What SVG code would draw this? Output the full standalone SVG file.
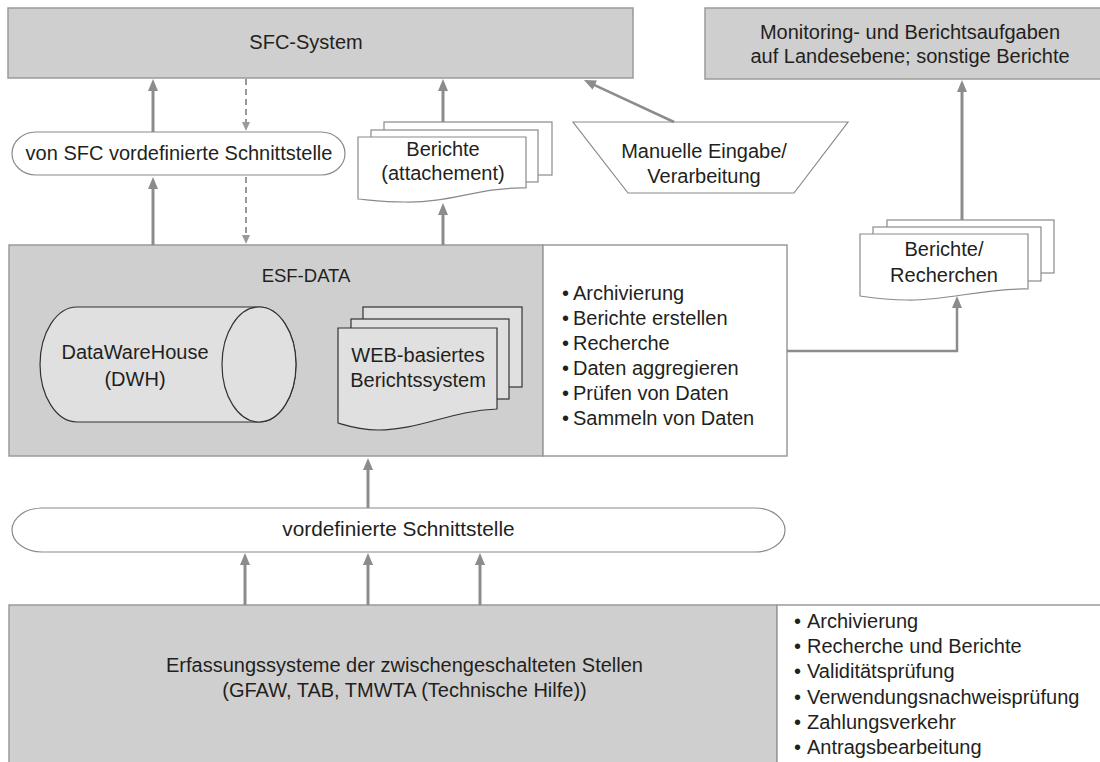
<svg xmlns="http://www.w3.org/2000/svg" width="1100" height="762" viewBox="0 0 1100 762">
<style>
text{font-family:"Liberation Sans",Arial,sans-serif;font-size:20px;fill:#231f20}
.c{text-anchor:middle}
.box{fill:#d0cfcf;stroke:#9a9a9a;stroke-width:1.5}
.info{fill:#fff;stroke:#9a9a9a;stroke-width:1.5}
.pill{fill:#fff;stroke:#8a8a8a;stroke-width:1.2}
.doc{fill:#fff;stroke:#8a8a8a;stroke-width:1.2}
.docd{fill:#e1e0e0;stroke:#333;stroke-width:1.2}
.arr{fill:none;stroke:#8c8c8c;stroke-width:3;marker-end:url(#ah)}
.arrt{fill:none;stroke:#8c8c8c;stroke-width:2.5;marker-end:url(#ah)}
.dash{fill:none;stroke:#9a9a9a;stroke-width:2;stroke-dasharray:6 4;marker-end:url(#ahs)}
</style>
<defs>
<marker id="ah" viewBox="0 0 12 10" refX="2" refY="5" markerWidth="12" markerHeight="10" markerUnits="userSpaceOnUse" orient="auto"><path d="M0,0 L12,5 L0,10 z" fill="#8c8c8c"/></marker>
<marker id="ahs" viewBox="0 0 9 8" refX="1" refY="4" markerWidth="9" markerHeight="8" markerUnits="userSpaceOnUse" orient="auto"><path d="M0,0 L9,4 L0,8 z" fill="#9a9a9a"/></marker>
</defs>
<rect width="1100" height="762" fill="#fff"/>

<g id="sfc-system">
<rect class="box" x="8" y="8" width="625" height="70"/>
<text class="c" x="306" y="49">SFC-System</text>
</g>

<g id="monitoring">
<rect class="box" x="705" y="8" width="400" height="71"/>
<text class="c" x="910" y="39">Monitoring- und Berichtsaufgaben</text>
<text class="c" x="910" y="63">auf Landesebene; sonstige Berichte</text>
</g>

<g id="sfc-schnittstelle">
<rect class="pill" x="12" y="132" width="333" height="43" rx="24" ry="21.5"/>
<text class="c" x="179" y="160">von SFC vordefinierte Schnittstelle</text>
</g>

<g id="berichte-attachement">
<rect class="doc" x="384" y="122" width="168" height="53"/>
<rect class="doc" x="371" y="130" width="167" height="52"/>
<path class="doc" d="M358,137 H526 V188 C480,187 450,203 405,202 C385,202 370,200 358,199 Z"/>
<text class="c" x="443" y="156">Berichte</text>
<text class="c" x="443" y="180">(attachement)</text>
</g>

<g id="manuelle-eingabe">
<polygon points="573,122 848,122 794,193 628,193" fill="#fff" stroke="#8a8a8a" stroke-width="1.2"/>
<text class="c" x="704" y="158">Manuelle Eingabe/</text>
<text class="c" x="704" y="183">Verarbeitung</text>
</g>

<g id="berichte-recherchen">
<rect class="doc" x="887" y="220" width="167" height="53"/>
<rect class="doc" x="873" y="227" width="168" height="54"/>
<path class="doc" d="M860,234 H1028 V289 C985,288 945,301 907,300 C888,300 873,298 860,296 Z"/>
<text class="c" x="944" y="256">Berichte/</text>
<text class="c" x="944" y="282">Recherchen</text>
</g>

<g id="esf-data">
<rect class="box" x="9" y="245" width="534" height="211"/>
<text class="c" x="306" y="282" style="font-size:18.5px">ESF-DATA</text>
</g>

<g id="dwh">
<path d="M77,307 H259 A37,57.5 0 0 1 259,422 H77 A37,57.5 0 0 1 77,307 Z" fill="#e1e0e0" stroke="#333" stroke-width="1.2"/>
<ellipse cx="259" cy="364.5" rx="37" ry="57.5" fill="#e1e0e0" stroke="#333" stroke-width="1.2"/>
<text class="c" x="135" y="359">DataWareHouse</text>
<text class="c" x="135" y="386">(DWH)</text>
</g>

<g id="web-berichtssystem">
<rect class="docd" x="363" y="307" width="159" height="80"/>
<rect class="docd" x="351" y="319" width="158" height="80"/>
<path class="docd" d="M338,328 H497 V409 C450,411 420,430 378,430 C360,430 348,426 338,423 Z"/>
<text class="c" x="418" y="362">WEB-basiertes</text>
<text class="c" x="418" y="387">Berichtssystem</text>
</g>

<g id="esf-funktionen">
<rect class="info" x="543" y="245" width="244" height="211"/>
<text x="562" y="300">•</text><text x="573" y="300">Archivierung</text>
<text x="562" y="325">•</text><text x="573" y="325">Berichte erstellen</text>
<text x="562" y="350">•</text><text x="573" y="350">Recherche</text>
<text x="562" y="375">•</text><text x="573" y="375">Daten aggregieren</text>
<text x="562" y="400">•</text><text x="573" y="400">Prüfen von Daten</text>
<text x="562" y="425">•</text><text x="573" y="425">Sammeln von Daten</text>
</g>

<g id="vordefinierte-schnittstelle">
<rect class="pill" x="12" y="508" width="773" height="44" rx="30" ry="22"/>
<text class="c" x="398.5" y="536" style="font-size:20.8px">vordefinierte Schnittstelle</text>
</g>

<g id="erfassungssysteme">
<rect class="box" x="9" y="605" width="768" height="170"/>
<text class="c" x="404.5" y="672">Erfassungssysteme der zwischengeschalteten Stellen</text>
<text class="c" x="404.5" y="697">(GFAW, TAB, TMWTA (Technische Hilfe))</text>
</g>

<g id="erfassung-funktionen">
<rect class="info" x="777" y="605" width="330" height="170"/>
<text x="794" y="628">•</text><text x="807" y="628">Archivierung</text>
<text x="794" y="653">•</text><text x="807" y="653">Recherche und Berichte</text>
<text x="794" y="678">•</text><text x="807" y="678">Validitätsprüfung</text>
<text x="794" y="704">•</text><text x="807" y="704">Verwendungsnachweisprüfung</text>
<text x="794" y="729">•</text><text x="807" y="729">Zahlungsverkehr</text>
<text x="794" y="754">•</text><text x="807" y="754">Antragsbearbeitung</text>
</g>

<g id="connectors">
<path class="arr" d="M153,245 V187"/>
<path class="arr" d="M153,132 V89"/>
<path class="dash" d="M246,79 V123"/>
<path class="dash" d="M246,177 V236"/>
<path class="arr" d="M443,122 V89"/>
<path class="arr" d="M443,245 V213"/>
<path class="arrt" d="M674,122 L593,84.3"/>
<path class="arr" d="M962,220 V90"/>
<path class="arrt" d="M787,351 H957 V306"/>
<path class="arr" d="M368,508 V468"/>
<path class="arr" d="M245,605 V563"/>
<path class="arr" d="M368,605 V563"/>
<path class="arr" d="M480,605 V563"/>
</g>
</svg>
